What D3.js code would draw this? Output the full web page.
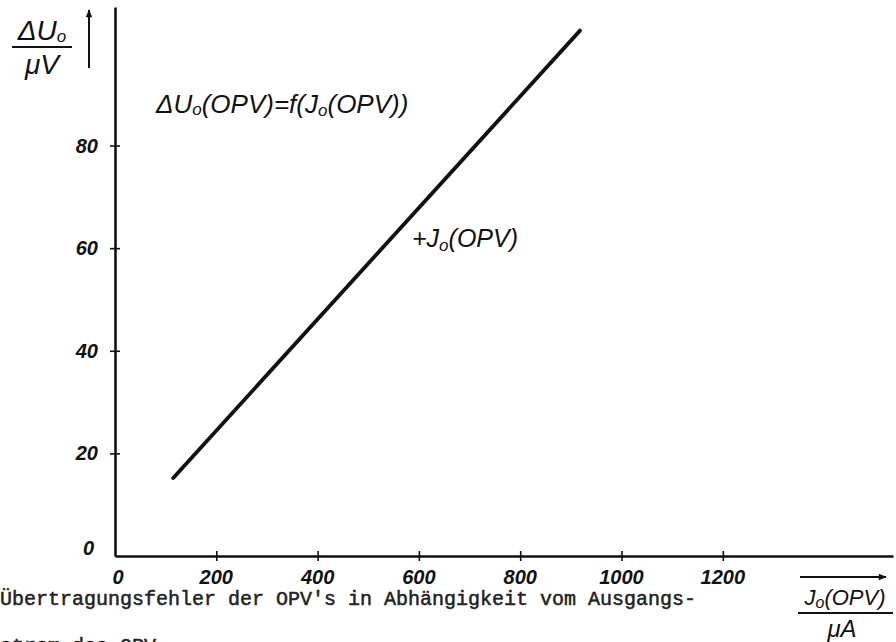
<!DOCTYPE html>
<html>
<head>
<meta charset="utf-8">
<script src="https://cdn.jsdelivr.net/npm/d3@7"></script>
<style>
  html, body { margin: 0; padding: 0; background: #fff; }
  svg { display: block; }
  .hand { font-family: "Liberation Sans", Arial, sans-serif; font-style: italic; fill: #111; }
  .type { font-family: "Liberation Mono", "DejaVu Sans Mono", monospace; fill: #222; stroke: #222; stroke-width: 0.5; }
</style>
</head>
<body>
<script>
// Output-current range of the transfer-error curve (µA) and resulting offset error (µV)
const currentUA = [115, 918];
const errorUV   = [15.2, 102.4];

// Tick labels on both axes
const xTicks = [0, 200, 400, 600, 800, 1000, 1200];
const yTicks = [0, 20, 40, 60, 80];

const W = 896, H = 642;
const svg = d3.select("body").append("svg").attr("width", W).attr("height", H);

const x = d3.scaleLinear().domain([0, 1536]).range([115, 893]);
const y = d3.scaleLinear().domain([0, 107]).range([556, 7]);

const ink = "#111";

// Arrowhead marker
svg.append("defs").append("marker").attr("id", "arr").attr("viewBox", "0 0 10 10")
  .attr("refX", 9).attr("refY", 5)
  .attr("markerUnits", "userSpaceOnUse").attr("orient", "auto")
  .attr("markerWidth", 16).attr("markerHeight", 8)
  .append("path").attr("d", "M0,1 L10,5 L0,9 Z").attr("fill", ink);

// X axis
const xAxis = d3.axisBottom(x).tickValues(xTicks.filter(d => d > 0)).tickSize(0).tickFormat("");
const gx = svg.append("g").attr("transform", `translate(0,${y(0)})`).call(xAxis);
gx.select(".domain").attr("stroke", ink).attr("stroke-width", 2.4);
gx.selectAll(".tick line").attr("y1", -5).attr("y2", 5).attr("stroke", ink).attr("stroke-width", 1.6);
svg.append("g").selectAll("text").data(xTicks).join("text")
  .attr("class", "hand")
  .attr("x", d => x(d) + (d === 0 ? 3 : 0))
  .attr("y", y(0) + 28)
  .attr("text-anchor", "middle")
  .attr("font-size", 20).attr("font-weight", "bold")
  .text(d => d);

// Y axis
const yAxis = d3.axisLeft(y).tickValues(yTicks.filter(d => d > 0)).tickSize(0).tickFormat("");
const gy = svg.append("g").attr("transform", `translate(${x(0)},0)`).call(yAxis);
gy.select(".domain").attr("stroke", ink).attr("stroke-width", 2.6);
gy.selectAll(".tick line").attr("x1", -5).attr("x2", 5).attr("stroke", ink).attr("stroke-width", 1.6);
svg.append("g").selectAll("text").data(yTicks).join("text")
  .attr("class", "hand")
  .attr("x", d => d === 0 ? 94 : 98)
  .attr("y", d => y(d) + 7 - (d === 0 ? 8 : 0))
  .attr("text-anchor", "end")
  .attr("font-size", 20).attr("font-weight", "bold")
  .text(d => d);

// Curve
const line = d3.line().x((d, i) => x(currentUA[i])).y(d => y(d));
svg.append("path").datum(errorUV)
  .attr("d", line)
  .attr("fill", "none").attr("stroke", ink)
  .attr("stroke-width", 3.8).attr("stroke-linecap", "round");

// Y axis quantity: ΔU0 / µV with upward arrow
const yl = svg.append("g").attr("class", "hand").attr("font-size", 28);
const yt = yl.append("text").attr("x", 42).attr("y", 40).attr("text-anchor", "middle");
yt.append("tspan").text("ΔU");
yt.append("tspan").attr("font-size", 17).attr("dy", 2).text("o");
svg.append("line").attr("x1", 12).attr("x2", 72).attr("y1", 47).attr("y2", 47)
  .attr("stroke", ink).attr("stroke-width", 2.2);
yl.append("text").attr("x", 42).attr("y", 74).attr("text-anchor", "middle").text("μV");
svg.append("line").attr("x1", 89).attr("x2", 89).attr("y1", 68).attr("y2", 10)
  .attr("stroke", ink).attr("stroke-width", 2).attr("marker-end", "url(#arr)");

// X axis quantity: J0(OPV) / µA with rightward arrow
svg.append("line").attr("x1", 800).attr("x2", 886).attr("y1", 577).attr("y2", 577)
  .attr("stroke", ink).attr("stroke-width", 2).attr("marker-end", "url(#arr)");
const xt = svg.append("text").attr("class", "hand").attr("font-size", 22)
  .attr("x", 845).attr("y", 605).attr("text-anchor", "middle");
xt.append("tspan").text("J");
xt.append("tspan").attr("font-size", 16).attr("dy", 3).text("o");
xt.append("tspan").attr("dy", -3).text("(OPV)");
svg.append("line").attr("x1", 798).attr("x2", 893).attr("y1", 613).attr("y2", 613)
  .attr("stroke", ink).attr("stroke-width", 2.2);
svg.append("text").attr("class", "hand").attr("font-size", 24)
  .attr("x", 842).attr("y", 637).attr("text-anchor", "middle").text("μA");

// Function label
const ft = svg.append("text").attr("class", "hand").attr("font-size", 26)
  .attr("x", 156).attr("y", 113);
ft.append("tspan").text("ΔU");
ft.append("tspan").attr("font-size", 17).attr("dy", 2).text("o");
ft.append("tspan").attr("dy", -2).text("(OPV)=f(J");
ft.append("tspan").attr("font-size", 17).attr("dy", 3).text("o");
ft.append("tspan").attr("dy", -3).text("(OPV))");

// Curve label
const ct = svg.append("text").attr("class", "hand").attr("font-size", 25)
  .attr("x", 412).attr("y", 247);
ct.append("tspan").text("+J");
ct.append("tspan").attr("font-size", 17).attr("dy", 4).text("o");
ct.append("tspan").attr("dy", -4).text("(OPV)");

// Caption
svg.append("text").attr("class", "type").attr("font-size", 20)
  .attr("x", 0).attr("y", 605)
  .text("Übertragungsfehler der OPV's in Abhängigkeit vom Ausgangs-");
svg.append("text").attr("class", "type").attr("font-size", 20)
  .attr("x", 0).attr("y", 652)
  .text("strom des OPV");
</script>
</body>
</html>
